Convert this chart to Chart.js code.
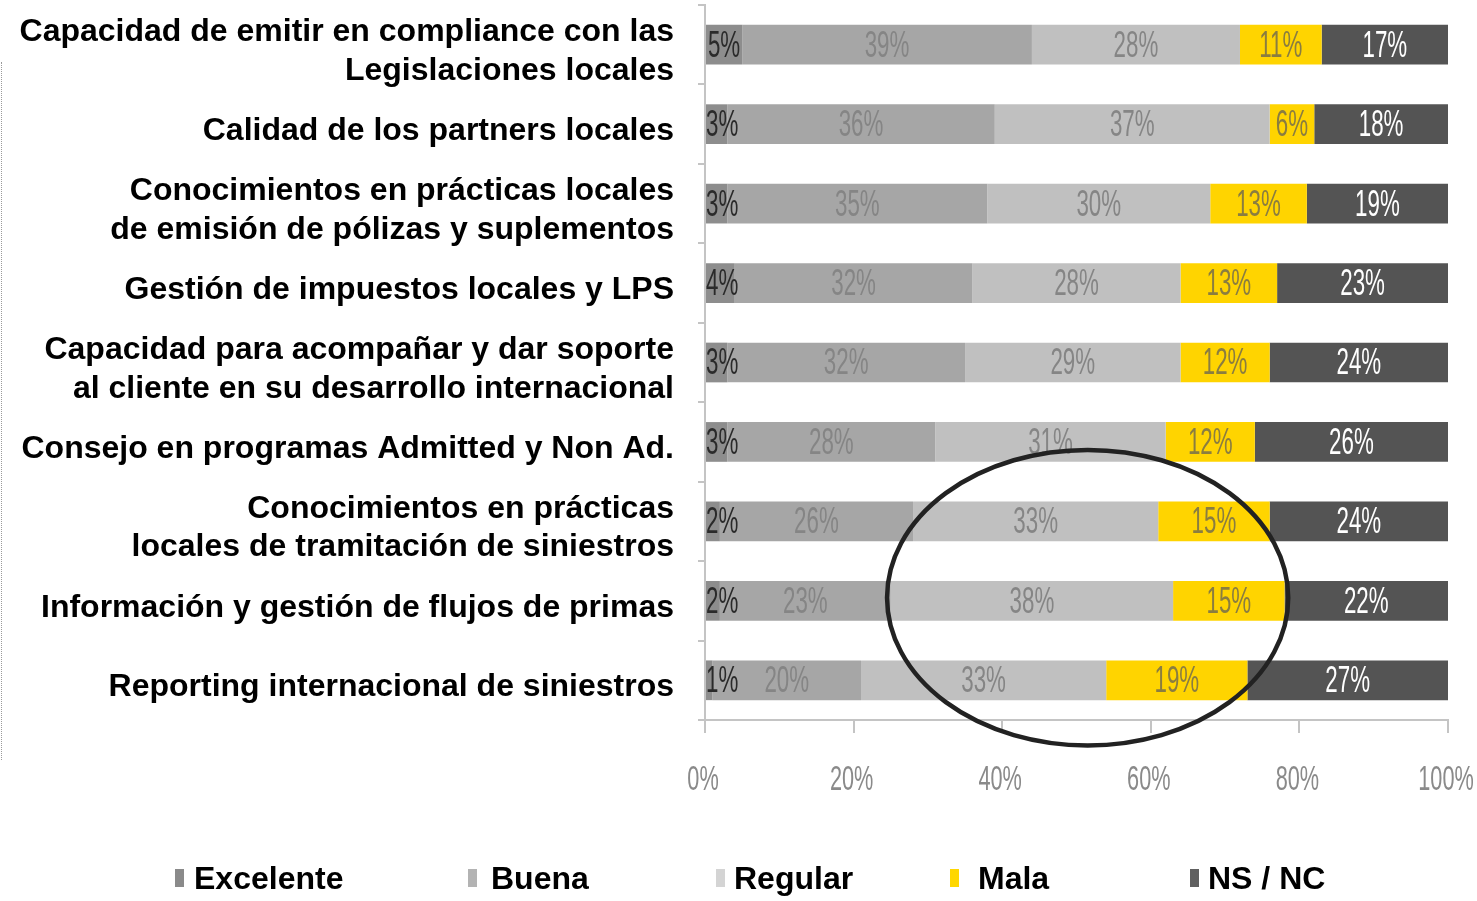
<!DOCTYPE html>
<html><head><meta charset="utf-8">
<script src="https://cdn.jsdelivr.net/npm/chart.js@4/dist/chart.umd.min.js"></script>
<style>
html,body{margin:0;padding:0;background:#fff;}
#wrap{position:relative;width:1477px;height:901px;overflow:hidden;background:#fff;}
#c{position:absolute;left:0;top:0;}
.dots{position:absolute;left:1px;top:62px;height:698px;border-left:1px dotted #9a9a9a;}
.leg{position:absolute;top:861px;height:34px;display:flex;align-items:center;font:bold 32px "Liberation Sans",Arial,sans-serif;color:#000;white-space:nowrap;}
.leg i{display:inline-block;width:9px;height:18px;}
</style></head>
<body><div id="wrap"><canvas id="c" width="1477" height="901"></canvas><div class="dots"></div><div id="legend"></div></div>
<script>
const categories = [
  ["Capacidad de emitir en compliance con las", "Legislaciones locales"],
  "Calidad de los partners locales",
  ["Conocimientos en prácticas locales", "de emisión de pólizas y suplementos"],
  "Gestión de impuestos locales y LPS",
  ["Capacidad para acompañar y dar soporte", "al cliente en su desarrollo internacional"],
  "Consejo en programas Admitted y Non Ad.",
  ["Conocimientos en prácticas", "locales de tramitación de siniestros"],
  "Información y gestión de flujos de primas",
  "Reporting internacional de siniestros"
];
const seriesNames = ["Excelente", "Buena", "Regular", "Mala", "NS / NC"];
const excelente = [5, 3, 3, 4, 3, 3, 2, 2, 1];
const buena     = [39, 36, 35, 32, 32, 28, 26, 23, 20];
const regular   = [28, 37, 30, 28, 29, 31, 33, 38, 33];
const mala      = [11, 6, 13, 13, 12, 12, 15, 15, 19];
const nsnc      = [17, 18, 19, 23, 24, 26, 24, 22, 27];
const xTickValues = [0, 20, 40, 60, 80, 100];
const xTickLabels = ["0%", "20%", "40%", "60%", "80%", "100%"];
// highlight ellipse extent, in axis units (x: percent, y: category index)
const ellipseXRange = [24.5, 78.5];
const ellipseYRange = [5.1, 8.82];

const seriesValues = [excelente, buena, regular, mala, nsnc];
const barColors   = ["#8d8d8d", "#a6a6a6", "#c0c0c0", "#ffd400", "#545454"];
const textColors  = ["#2a2a2a", "#858585", "#858585", "#8a7d40", "#ffffff"];
const legendColors= ["#8a8a8a", "#b3b3b3", "#d4d4d4", "#ffd700", "#606060"];
const legendLeft  = [175, 468, 716, 950, 1190];
const legendGap   = [10, 14, 9, 19, 9];

const FONT = '"Liberation Sans", Arial, sans-serif';

const barLabels = {
  id: 'barLabels',
  afterDatasetsDraw(chart) {
    const ctx = chart.ctx;
    chart.data.datasets.forEach((ds, i) => {
      const meta = chart.getDatasetMeta(i);
      meta.data.forEach((el, j) => {
        const txt = ds.data[j] + '%';
        ctx.save();
        ctx.font = '36px ' + FONT;
        const halfW = ctx.measureText(txt).width * 0.62 / 2;
        const cx = Math.max((el.x + el.base) / 2, Math.min(el.x, el.base) + halfW);
        ctx.translate(cx, el.y + 2);
        ctx.scale(0.62, 1);
        ctx.textAlign = 'center';
        ctx.textBaseline = 'middle';
        ctx.fillStyle = textColors[i];
        ctx.fillText(txt, 0, 0);
        ctx.restore();
      });
    });
  }
};

const ellipsePlugin = {
  id: 'ellipse',
  afterDatasetsDraw(chart) {
    const {ctx, scales: {x, y}} = chart;
    const x0 = x.getPixelForValue(ellipseXRange[0]);
    const x1 = x.getPixelForValue(ellipseXRange[1]);
    const y0 = y.getPixelForValue(ellipseYRange[0]);
    const y1 = y.getPixelForValue(ellipseYRange[1]);
    ctx.save();
    ctx.beginPath();
    ctx.ellipse((x0 + x1) / 2, (y0 + y1) / 2, (x1 - x0) / 2, (y1 - y0) / 2, 0, 0, Math.PI * 2);
    ctx.lineWidth = 4.5;
    ctx.strokeStyle = '#222222';
    ctx.stroke();
    ctx.restore();
  }
};

const xTickText = {
  id: 'xTickText',
  afterDraw(chart) {
    const {ctx, scales: {x}, chartArea} = chart;
    xTickValues.forEach((v, k) => {
      ctx.save();
      ctx.translate(x.getPixelForValue(v) - 2, chartArea.bottom + 60);
      ctx.scale(0.62, 1);
      ctx.font = '35px ' + FONT;
      ctx.textAlign = 'center';
      ctx.textBaseline = 'middle';
      ctx.fillStyle = '#8a8a8a';
      ctx.fillText(xTickLabels[k], 0, 0);
      ctx.restore();
    });
  }
};

const chart = new Chart(document.getElementById('c'), {
  type: 'bar',
  data: {
    labels: categories,
    datasets: seriesValues.map((vals, i) => ({
      label: seriesNames[i],
      data: vals,
      backgroundColor: barColors[i],
      borderWidth: 0,
      barPercentage: 0.5,
      categoryPercentage: 1
    }))
  },
  options: {
    responsive: false,
    animation: false,
    indexAxis: 'y',
    layout: {padding: {top: 5, right: 29, left: 0, bottom: 0}},
    plugins: {legend: {display: false}, tooltip: {enabled: false}},
    scales: {
      x: {
        stacked: true, min: 0, max: 100,
        ticks: {stepSize: 20, display: false},
        grid: {drawOnChartArea: false, drawTicks: true, tickLength: 13, color: '#c4c4c4', lineWidth: 2},
        border: {color: '#c4c4c4', width: 2},
        afterFit(s) { s.height = 181; s.paddingLeft = 0; s.paddingRight = 0; }
      },
      y: {
        stacked: true,
        ticks: {font: {family: FONT, size: 32, weight: 'bold', lineHeight: 1.2}, color: '#000', padding: 24, autoSkip: false, labelOffset: 7},
        grid: {drawOnChartArea: false, tickLength: 7, color: '#c4c4c4', lineWidth: 2, offset: true},
        border: {color: '#c4c4c4', width: 2},
        afterFit(s) { s.width = 705; s.paddingTop = 0; s.paddingBottom = 0; }
      }
    }
  },
  plugins: [barLabels, ellipsePlugin, xTickText]
});

const legendEl = document.getElementById('legend');
chart.data.datasets.forEach((ds, i) => {
  const d = document.createElement('div');
  d.className = 'leg';
  d.style.left = legendLeft[i] + 'px';
  const m = document.createElement('i');
  m.style.background = legendColors[i];
  m.style.marginRight = legendGap[i] + 'px';
  d.appendChild(m);
  d.appendChild(document.createTextNode(ds.label));
  legendEl.appendChild(d);
});
</script>
</body></html>
